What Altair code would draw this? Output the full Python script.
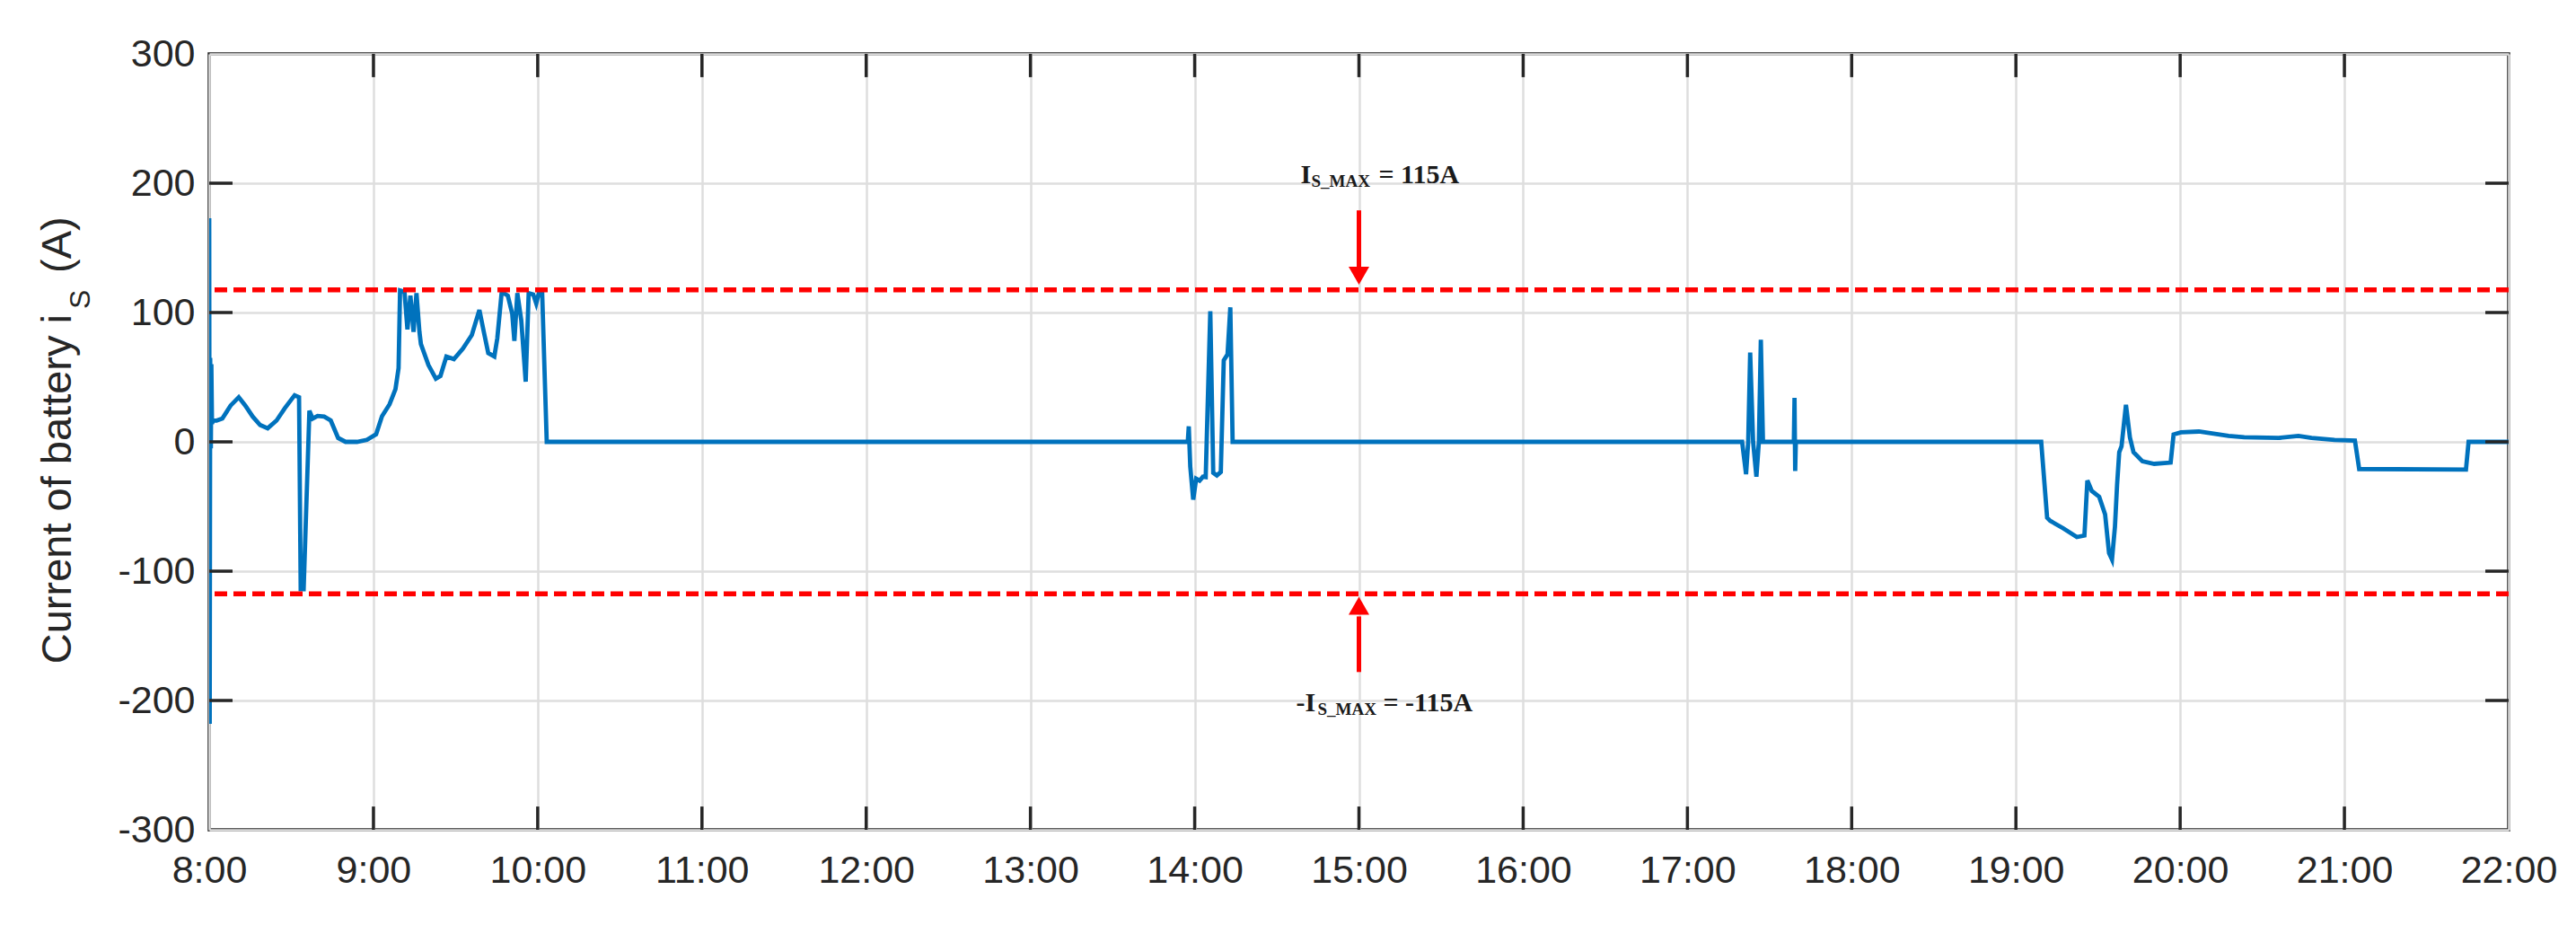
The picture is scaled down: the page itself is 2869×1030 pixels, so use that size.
import altair as alt
import pandas as pd

# ---------------- data ----------------
times = [
    8.000, 8.003, 8.006, 8.010, 8.013, 8.017, 8.025, 8.046, 8.08, 8.13, 8.18, 8.22, 8.265,
    8.31, 8.356, 8.41, 8.46, 8.52, 8.547, 8.557, 8.575, 8.61, 8.63, 8.66, 8.70, 8.74,
    8.785, 8.83, 8.90, 8.96, 9.016, 9.052, 9.098, 9.134, 9.153, 9.162, 9.189, 9.207,
    9.225, 9.244, 9.262, 9.28, 9.289, 9.335, 9.38, 9.408, 9.444, 9.49, 9.544, 9.599,
    9.645, 9.672, 9.699, 9.736, 9.754, 9.781, 9.818, 9.845, 9.858, 9.876, 9.9, 9.927,
    9.945, 9.973, 9.991, 10.009, 10.027, 10.055,
    13.958, 13.964, 13.973, 13.991, 14.009, 14.03, 14.05, 14.067, 14.095, 14.113, 14.135,
    14.159, 14.177, 14.2, 14.217, 14.231,
    17.333, 17.357, 17.37, 17.382, 17.40, 17.42, 17.435, 17.447, 17.46,
    17.648, 17.652, 17.656, 17.66,
    19.154, 19.19, 19.208, 19.29, 19.371, 19.417, 19.435, 19.462, 19.507, 19.543, 19.567,
    19.585, 19.603, 19.616, 19.629, 19.643, 19.67, 19.694, 19.716, 19.77, 19.842, 19.942,
    19.96, 20.005, 20.114, 20.295, 20.39, 20.6, 20.72, 20.8, 20.94, 21.064, 21.09, 21.74,
    21.756, 22.0,
]
current = [
    173, -218, 65, -5, 60, 14, 17, 16.5, 18, 28, 34.5, 28, 19.5,
    13, 10.5, 16.5, 26, 36, 34.5, -114, -114, 24, 18, 20, 19.5, 16.5,
    3, 0, 0, 1.5, 5.8, 19.8, 29, 40.7, 57, 117, 116, 87,
    113, 85, 115, 85, 75.6, 59.3, 48.8, 51, 66, 64, 72, 82.6,
    102, 85, 68.6, 66, 80, 116, 113, 99, 78, 115, 94, 46.5,
    115, 114, 107, 116, 116, 0,
    0, 12, -19, -44.7, -28.5, -30, -27, -27.3, 101, -24, -26,
    -23.4, 63, 67.6, 104, 0,
    0, -25, 0, 69, 0, -27, 0, 79, 0,
    0, 34, -22.5, 0,
    0, -58.6, -61, -67, -73.6, -72.4, -29.9, -38, -42.5, -56, -86,
    -91, -65.5, -33, -8, -3.4, 28.7, 3.4, -8, -15, -17, -16,
    5.7, 7.4, 8, 4.6, 3.5, 3, 4.6, 3, 1.5, 1, -21, -21.5,
    0, 0,
]
hour_ticks = list(range(8, 23))
current_ticks = list(range(-300, 301, 100))
limit_upper = 117.5
limit_lower = -117.5
arrow_hour = 15

# ---------------- styles ----------------
W, H = 2561, 864
AX = "#262626"
BLUE = "#0072BD"
RED = "#FF0000"
SANS = "Liberation Sans"
SERIF = "Liberation Serif"
TICK_LEN_I = 18      # tick length expressed in amperes (vertical)
TICK_LEN_T = 0.142   # tick length expressed in hours (horizontal)

x_scale = alt.Scale(domain=[8, 22], nice=False, zero=False)
y_scale = alt.Scale(domain=[-300, 300], nice=False, zero=False)
x_axis = alt.Axis(values=hour_ticks, labelExpr="datum.value + ':00'",
                  grid=True, labelPadding=24, labelFlush=False, labelOverlap=False)
y_axis = alt.Axis(values=current_ticks, labelExpr="'' + datum.value",
                  grid=True, labelPadding=16, labelFlush=False, labelOverlap=False)


def X(field=None, datum=None):
    if datum is not None:
        return alt.XDatum(datum, scale=x_scale, axis=x_axis, title=None)
    return alt.X(field, scale=x_scale, axis=x_axis, title=None)


def Y(field=None, datum=None):
    if datum is not None:
        return alt.YDatum(datum, scale=y_scale, axis=y_axis, title=None)
    return alt.Y(field, scale=y_scale, axis=y_axis, title=None)


df = pd.DataFrame({"t": times, "i": current})

line = alt.Chart(df).mark_line(color=BLUE, strokeWidth=4.8, clip=True).encode(
    x=X("t:Q"), y=Y("i:Q"),
)

# inward ticks on all four sides
tick_rows = []
for h in hour_ticks[1:-1]:
    tick_rows.append({"x": h, "x2": h, "y": -300, "y2": -300 + TICK_LEN_I})
    tick_rows.append({"x": h, "x2": h, "y": 300, "y2": 300 - TICK_LEN_I})
for v in current_ticks[1:-1]:
    tick_rows.append({"x": 8, "x2": 8 + TICK_LEN_T, "y": v, "y2": v})
    tick_rows.append({"x": 22, "x2": 22 - TICK_LEN_T, "y": v, "y2": v})
ticks = alt.Chart(pd.DataFrame(tick_rows)).mark_rule(color=AX, strokeWidth=3.5).encode(
    x=X("x:Q"), x2="x2:Q", y=Y("y:Q"), y2="y2:Q",
)


def hrule(value):
    return alt.Chart().mark_rule(color=RED, strokeWidth=5.5, strokeDash=[14, 7]).encode(
        y=Y(datum=value)
    )


def label(text, t, v, size, dx=0, dy=0, font=SERIF, weight="bold", angle=0,
          align="left", color="#1a1a1a"):
    kw = dict(text=text, font=font, fontSize=size, fontWeight=weight, align=align,
              baseline="alphabetic", dx=dx, dy=dy, color=color)
    if angle:
        kw["angle"] = angle
    return alt.Chart().mark_text(**kw).encode(x=X(datum=t), y=Y(datum=v))


# arrows
arrow_df = pd.DataFrame({"x": [arrow_hour, arrow_hour], "y": [179, -178], "y2": [134, -135]})
arrow_shafts = alt.Chart(arrow_df).mark_rule(color=RED, strokeWidth=5).encode(
    x=X("x:Q"), y=Y("y:Q"), y2="y2:Q",
)
head_down = alt.Chart().mark_point(shape="triangle-down", filled=True, color=RED,
                                   size=529, opacity=1).encode(
    x=X(datum=arrow_hour), y=Y(datum=128.5),
)
head_up = alt.Chart().mark_point(shape="triangle-up", filled=True, color=RED,
                                 size=529, opacity=1).encode(
    x=X(datum=arrow_hour), y=Y(datum=-126.7),
)

# annotation texts (subscripts as separate smaller texts)
top_I = label("I", arrow_hour, 200, 30, dx=-65)
top_sub = label("S_MAX", arrow_hour, 200, 19, dx=-53, dy=4)
top_rest = label("= 115A", arrow_hour, 200, 30, dx=22)
bot_I = label("-I", arrow_hour, -208, 30, dx=-70)
bot_sub = label("S_MAX", arrow_hour, -208, 19, dx=-46, dy=4)
bot_rest = label("= -115A", arrow_hour, -208, 30, dx=27)

# y-axis title with subscript
yt_main = label("Current of battery i", 8, 98.6, 47, dx=0, dy=-154, font=SANS,
                weight="normal", angle=270, align="right", color=AX)
yt_sub = label("S", 8, 98.6, 32, dx=6, dy=-133, font=SANS, weight="normal",
               angle=270, align="left", color=AX)
yt_end = label("(A)", 8, 98.6, 47, dx=46, dy=-154, font=SANS, weight="normal",
               angle=270, align="left", color=AX)

chart = alt.layer(
    line, hrule(limit_upper), hrule(limit_lower), ticks,
    arrow_shafts, head_down, head_up,
    top_I, top_sub, top_rest, bot_I, bot_sub, bot_rest,
    yt_main, yt_sub, yt_end,
).properties(
    width=W, height=H,
    autosize=alt.AutoSizeParams(type="none"),
    padding={"left": 225, "top": 52, "right": 62, "bottom": 90},
    background="white",
).configure_view(
    stroke=AX, strokeWidth=3.5,
).configure_axis(
    gridColor="#dedede", gridWidth=2.5, domain=False, ticks=False, tickSize=0,
    labelFont=SANS, labelFontSize=43, labelColor=AX,
)

chart.save("out.html", embed_options={"renderer": "svg", "actions": False})
